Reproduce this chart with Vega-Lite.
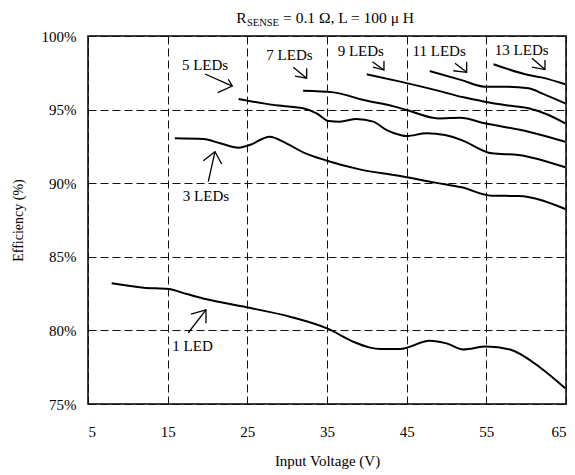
{
  "$schema": "https://vega.github.io/schema/vega-lite/v6.json",
  "width": 478,
  "height": 368,
  "autosize": {"type": "none"},
  "padding": {"left": 88, "top": 36, "right": 9, "bottom": 71},
  "background": "white",
  "config": {
    "view": {"stroke": "#000", "strokeWidth": 1.5},
    "font": "Liberation Serif",
    "text": {"font": "Liberation Serif", "color": "#000"}
  },
  "datasets": {
    "curves": [
      {"series": "1 LED", "v": 7.97, "eff": 83.2}, {"series": "1 LED", "v": 12, "eff": 82.9}, {"series": "1 LED", "v": 15.1, "eff": 82.81}, {"series": "1 LED", "v": 17.4, "eff": 82.47}, {"series": "1 LED", "v": 19.9, "eff": 82.11}, {"series": "1 LED", "v": 24.9, "eff": 81.57}, {"series": "1 LED", "v": 30.35, "eff": 80.93}, {"series": "1 LED", "v": 35.16, "eff": 80.1}, {"series": "1 LED", "v": 38.3, "eff": 79.23}, {"series": "1 LED", "v": 40.4, "eff": 78.83}, {"series": "1 LED", "v": 41.65, "eff": 78.74}, {"series": "1 LED", "v": 44.16, "eff": 78.74}, {"series": "1 LED", "v": 47.9, "eff": 79.3}, {"series": "1 LED", "v": 50.0, "eff": 79.12}, {"series": "1 LED", "v": 52.1, "eff": 78.7}, {"series": "1 LED", "v": 55.0, "eff": 78.9}, {"series": "1 LED", "v": 57.97, "eff": 78.7}, {"series": "1 LED", "v": 61.7, "eff": 77.5}, {"series": "1 LED", "v": 64.9, "eff": 76.07},
      {"series": "3 LEDs", "v": 15.9, "eff": 93.05}, {"series": "3 LEDs", "v": 19.5, "eff": 93.0}, {"series": "3 LEDs", "v": 21.6, "eff": 92.71}, {"series": "3 LEDs", "v": 23.9, "eff": 92.41}, {"series": "3 LEDs", "v": 25.3, "eff": 92.6}, {"series": "3 LEDs", "v": 27.8, "eff": 93.16}, {"series": "3 LEDs", "v": 29.9, "eff": 92.71}, {"series": "3 LEDs", "v": 32.0, "eff": 92.1}, {"series": "3 LEDs", "v": 35.0, "eff": 91.53}, {"series": "3 LEDs", "v": 39.1, "eff": 90.94}, {"series": "3 LEDs", "v": 44.2, "eff": 90.49}, {"series": "3 LEDs", "v": 48.6, "eff": 90.04}, {"series": "3 LEDs", "v": 51.9, "eff": 89.72}, {"series": "3 LEDs", "v": 55.7, "eff": 89.15}, {"series": "3 LEDs", "v": 59.0, "eff": 89.13}, {"series": "3 LEDs", "v": 64.9, "eff": 88.25},
      {"series": "5 LEDs", "v": 23.9, "eff": 95.72}, {"series": "5 LEDs", "v": 28.3, "eff": 95.31}, {"series": "5 LEDs", "v": 32.0, "eff": 95.09}, {"series": "5 LEDs", "v": 33.7, "eff": 94.75}, {"series": "5 LEDs", "v": 35.2, "eff": 94.22}, {"series": "5 LEDs", "v": 36.6, "eff": 94.18}, {"series": "5 LEDs", "v": 38.7, "eff": 94.36}, {"series": "5 LEDs", "v": 40.8, "eff": 94.18}, {"series": "5 LEDs", "v": 42.5, "eff": 93.6}, {"series": "5 LEDs", "v": 44.2, "eff": 93.27}, {"series": "5 LEDs", "v": 45.0, "eff": 93.2}, {"series": "5 LEDs", "v": 47.5, "eff": 93.4}, {"series": "5 LEDs", "v": 49.8, "eff": 93.27}, {"series": "5 LEDs", "v": 51.9, "eff": 92.93}, {"series": "5 LEDs", "v": 55.7, "eff": 92.03}, {"series": "5 LEDs", "v": 59.0, "eff": 91.92}, {"series": "5 LEDs", "v": 64.9, "eff": 91.08},
      {"series": "7 LEDs", "v": 32.0, "eff": 96.28}, {"series": "7 LEDs", "v": 35.8, "eff": 96.17}, {"series": "7 LEDs", "v": 39.6, "eff": 95.65}, {"series": "7 LEDs", "v": 43.5, "eff": 95.2}, {"series": "7 LEDs", "v": 45.0, "eff": 94.97}, {"series": "7 LEDs", "v": 49.0, "eff": 94.4}, {"series": "7 LEDs", "v": 51.7, "eff": 94.45}, {"series": "7 LEDs", "v": 54.8, "eff": 94.07}, {"series": "7 LEDs", "v": 60.3, "eff": 93.5}, {"series": "7 LEDs", "v": 64.9, "eff": 92.82},
      {"series": "9 LEDs", "v": 40.0, "eff": 97.4}, {"series": "9 LEDs", "v": 44.2, "eff": 96.9}, {"series": "9 LEDs", "v": 49.4, "eff": 96.22}, {"series": "9 LEDs", "v": 52.0, "eff": 95.85}, {"series": "9 LEDs", "v": 54.8, "eff": 95.54}, {"series": "9 LEDs", "v": 57.5, "eff": 95.3}, {"series": "9 LEDs", "v": 60.3, "eff": 95.09}, {"series": "9 LEDs", "v": 62.5, "eff": 94.7}, {"series": "9 LEDs", "v": 64.9, "eff": 94.07},
      {"series": "11 LEDs", "v": 47.9, "eff": 97.62}, {"series": "11 LEDs", "v": 51.9, "eff": 97.0}, {"series": "11 LEDs", "v": 54.8, "eff": 96.56}, {"series": "11 LEDs", "v": 57.3, "eff": 96.56}, {"series": "11 LEDs", "v": 60.3, "eff": 96.45}, {"series": "11 LEDs", "v": 62.2, "eff": 96.05}, {"series": "11 LEDs", "v": 64.9, "eff": 95.42},
      {"series": "13 LEDs", "v": 55.9, "eff": 98.08}, {"series": "13 LEDs", "v": 60.3, "eff": 97.35}, {"series": "13 LEDs", "v": 61.9, "eff": 97.19}, {"series": "13 LEDs", "v": 64.9, "eff": 96.72}
    ],
    "arrows": [
      {"id": "a1s", "o": 1, "v": 17.59, "eff": 79.84}, {"id": "a1s", "o": 2, "v": 19.81, "eff": 81.39},
      {"id": "a1h", "o": 1, "v": 17.93, "eff": 81.11}, {"id": "a1h", "o": 2, "v": 19.81, "eff": 81.39}, {"id": "a1h", "o": 3, "v": 19.81, "eff": 80.48},
      {"id": "a3s", "o": 1, "v": 20.10, "eff": 90.10}, {"id": "a3s", "o": 2, "v": 20.94, "eff": 92.14},
      {"id": "a3h", "o": 1, "v": 19.47, "eff": 91.53}, {"id": "a3h", "o": 2, "v": 20.94, "eff": 92.14}, {"id": "a3h", "o": 3, "v": 21.78, "eff": 91.30},
      {"id": "a5s", "o": 1, "v": 19.69, "eff": 97.42}, {"id": "a5s", "o": 2, "v": 23.11, "eff": 96.60},
      {"id": "a5h", "o": 1, "v": 21.28, "eff": 96.15}, {"id": "a5h", "o": 2, "v": 23.11, "eff": 96.60}, {"id": "a5h", "o": 3, "v": 22.61, "eff": 97.06},
      {"id": "a7s", "o": 1, "v": 30.77, "eff": 97.87}, {"id": "a7s", "o": 2, "v": 32.45, "eff": 97.13},
      {"id": "a7h", "o": 1, "v": 32.45, "eff": 97.81}, {"id": "a7h", "o": 2, "v": 32.45, "eff": 97.13}, {"id": "a7h", "o": 3, "v": 30.98, "eff": 97.28},
      {"id": "a9s", "o": 1, "v": 40.70, "eff": 98.25}, {"id": "a9s", "o": 2, "v": 42.15, "eff": 97.69},
      {"id": "a9h", "o": 1, "v": 42.15, "eff": 98.30}, {"id": "a9h", "o": 2, "v": 42.15, "eff": 97.69}, {"id": "a9h", "o": 3, "v": 40.77, "eff": 97.89},
      {"id": "a11s", "o": 1, "v": 51.07, "eff": 98.15}, {"id": "a11s", "o": 2, "v": 52.53, "eff": 97.53},
      {"id": "a11h", "o": 1, "v": 52.53, "eff": 98.25}, {"id": "a11h", "o": 2, "v": 52.53, "eff": 97.53}, {"id": "a11h", "o": 3, "v": 50.85, "eff": 97.64},
      {"id": "a13s", "o": 1, "v": 60.73, "eff": 98.49}, {"id": "a13s", "o": 2, "v": 62.36, "eff": 97.72},
      {"id": "a13h", "o": 1, "v": 62.36, "eff": 98.37}, {"id": "a13h", "o": 2, "v": 62.36, "eff": 97.72}, {"id": "a13h", "o": 3, "v": 60.73, "eff": 97.89}
    ],
    "labels": [
      {"label": "5 LEDs", "v": 19.69, "eff": 98.06},
      {"label": "7 LEDs", "v": 30.29, "eff": 98.71},
      {"label": "9 LEDs", "v": 39.24, "eff": 98.96},
      {"label": "11 LEDs", "v": 49.08, "eff": 98.99},
      {"label": "13 LEDs", "v": 59.44, "eff": 99.05},
      {"label": "3 LEDs", "v": 19.81, "eff": 89.13},
      {"label": "1 LED", "v": 18.12, "eff": 78.96}
    ]
  },
  "layer": [
    {
      "data": {"name": "curves"},
      "mark": {"type": "line", "color": "#000", "strokeWidth": 2, "interpolate": "monotone"},
      "encoding": {
        "x": {
          "field": "v", "type": "quantitative",
          "scale": {"domain": [5, 65], "nice": false, "zero": false},
          "axis": {
            "values": [5, 15, 25, 35, 45, 55, 65],
            "grid": true, "gridColor": "#111", "gridDash": [8, 4], "gridWidth": 1, "gridOpacity": 1,
            "ticks": false, "domain": false,
            "labelFont": "Liberation Serif", "labelFontSize": 15, "labelColor": "#000", "labelPadding": 20,
            "title": "Input Voltage (V)", "titleFont": "Liberation Serif", "titleFontSize": 15, "titleFontWeight": "normal", "titleColor": "#000", "titlePadding": 14
          }
        },
        "y": {
          "field": "eff", "type": "quantitative",
          "scale": {"domain": [75, 100], "nice": false, "zero": false},
          "axis": {
            "values": [75, 80, 85, 90, 95, 100],
            "labelExpr": "datum.value + '%'",
            "grid": true, "gridColor": "#111", "gridDash": [8, 4], "gridWidth": 1, "gridOpacity": 1,
            "ticks": false, "domain": false,
            "labelFont": "Liberation Serif", "labelFontSize": 15, "labelColor": "#000", "labelPadding": 12,
            "title": "Efficiency (%)", "titleFont": "Liberation Serif", "titleFontSize": 14, "titleFontWeight": "normal", "titleColor": "#000", "titlePadding": 16
          }
        },
        "detail": {"field": "series"}
      }
    },
    {
      "data": {"name": "arrows"},
      "mark": {"type": "line", "color": "#000", "strokeWidth": 1.3},
      "encoding": {
        "x": {"field": "v", "type": "quantitative", "scale": {"domain": [5, 65], "nice": false, "zero": false}},
        "y": {"field": "eff", "type": "quantitative", "scale": {"domain": [75, 100], "nice": false, "zero": false}},
        "detail": {"field": "id"},
        "order": {"field": "o"}
      }
    },
    {
      "data": {"name": "labels"},
      "mark": {"type": "text", "fontSize": 15, "align": "center", "baseline": "middle", "color": "#000"},
      "encoding": {
        "x": {"field": "v", "type": "quantitative", "scale": {"domain": [5, 65], "nice": false, "zero": false}},
        "y": {"field": "eff", "type": "quantitative", "scale": {"domain": [75, 100], "nice": false, "zero": false}},
        "text": {"field": "label"}
      }
    },
    {
      "data": {"values": [{"part": "R", "v": 24.92, "eff": 100.86}]},
      "mark": {"type": "text", "fontSize": 15.5, "align": "right", "baseline": "alphabetic", "color": "#000"},
      "encoding": {
        "x": {"field": "v", "type": "quantitative", "scale": {"domain": [5, 65], "nice": false, "zero": false}},
        "y": {"field": "eff", "type": "quantitative", "scale": {"domain": [75, 100], "nice": false, "zero": false}},
        "text": {"field": "part"}
      }
    },
    {
      "data": {"values": [{"part": "SENSE", "v": 24.95, "eff": 100.71}]},
      "mark": {"type": "text", "fontSize": 10.5, "align": "left", "baseline": "alphabetic", "color": "#000"},
      "encoding": {
        "x": {"field": "v", "type": "quantitative", "scale": {"domain": [5, 65], "nice": false, "zero": false}},
        "y": {"field": "eff", "type": "quantitative", "scale": {"domain": [75, 100], "nice": false, "zero": false}},
        "text": {"field": "part"}
      }
    },
    {
      "data": {"values": [{"part": "= 0.1 Ω, L = 100 μ H", "v": 29.48, "eff": 100.86}]},
      "mark": {"type": "text", "fontSize": 15.5, "align": "left", "baseline": "alphabetic", "color": "#000"},
      "encoding": {
        "x": {"field": "v", "type": "quantitative", "scale": {"domain": [5, 65], "nice": false, "zero": false}},
        "y": {"field": "eff", "type": "quantitative", "scale": {"domain": [75, 100], "nice": false, "zero": false}},
        "text": {"field": "part"}
      }
    }
  ]
}
